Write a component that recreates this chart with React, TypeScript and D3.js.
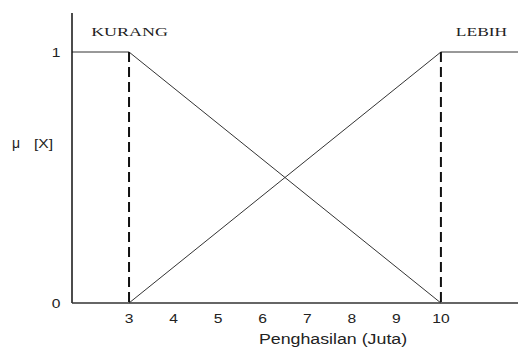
import React from "react";
import * as d3 from "d3";

// Membership function breakpoints (income in millions)
const lowBreak = 3;
const highBreak = 10;
const xTicks = [3, 4, 5, 6, 7, 8, 9, 10];
const yTicks = [0, 1];
const xDomainEdges = [1.72, 11.73];

// Fuzzy sets: "KURANG" (falling) and "LEBIH" (rising)
const kurangPoints: [number, number][] = [
  [1.72, 1],
  [3, 1],
  [10, 0],
];
const lebihPoints: [number, number][] = [
  [3, 0],
  [10, 1],
  [11.73, 1],
];

const W = 518;
const H = 351;

export default function App() {
  const x = d3.scaleLinear().domain(xDomainEdges).range([72, 518]);
  const y = d3.scaleLinear().domain([0, 1]).range([303, 52]);
  const line = d3
    .line<[number, number]>()
    .x((d) => x(d[0]))
    .y((d) => y(d[1]));

  const sans = "'Liberation Sans', Arial, sans-serif";
  const serif = "'Liberation Serif', 'Times New Roman', serif";
  const stretch = (cx: number, cy: number, s = 1.3) =>
    `translate(${cx},${cy}) scale(${s},1)`;

  return (
    <svg
      width={W}
      height={H}
      style={{ position: "absolute", left: 0, top: 0, background: "#fff" }}
    >
      {/* membership curves */}
      <path d={line(kurangPoints) || ""} fill="none" stroke="#333" strokeWidth={1} />
      <path d={line(lebihPoints) || ""} fill="none" stroke="#333" strokeWidth={1} />

      {/* dashed breakpoints */}
      {[lowBreak, highBreak].map((v) => (
        <line
          key={v}
          x1={x(v)}
          x2={x(v)}
          y1={y(1)}
          y2={y(0)}
          stroke="#111"
          strokeWidth={2}
          strokeDasharray="10,5"
        />
      ))}

      {/* axes */}
      <line x1={x(xDomainEdges[0])} x2={x(xDomainEdges[0])} y1={13} y2={y(0)} stroke="#111" strokeWidth={1.5} />
      <line x1={x(xDomainEdges[0])} x2={x(xDomainEdges[1])} y1={y(0)} y2={y(0)} stroke="#333" strokeWidth={1.5} />

      {/* x tick labels */}
      {xTicks.map((t) => (
        <text
          key={t}
          transform={stretch(x(t), 323, 1.2)}
          textAnchor="middle"
          fontFamily={sans}
          fontSize={13}
          fill="#222"
        >
          {t}
        </text>
      ))}

      {/* y tick labels */}
      {yTicks.map((t) => (
        <text
          key={t}
          transform={stretch(56, y(t) + 5, 1.2)}
          textAnchor="middle"
          fontFamily={sans}
          fontSize={13}
          fill="#222"
        >
          {t}
        </text>
      ))}

      {/* axis titles */}
      <text
        transform={stretch(333, 344, 1.27)}
        textAnchor="middle"
        fontFamily={sans}
        fontSize={14}
        fill="#222"
      >
        Penghasilan (Juta)
      </text>
      <text x={12} y={148} fontFamily={sans} fontSize={14} fill="#222">
        μ
      </text>
      <text transform={stretch(34, 148, 1.2)} fontFamily={sans} fontSize={13} fill="#222">
        [X]
      </text>

      {/* set labels */}
      <text transform={stretch(129.5, 36, 1.38)} textAnchor="middle" fontFamily={serif} fontSize={13} fill="#222">
        KURANG
      </text>
      <text transform={stretch(481.5, 36, 1.34)} textAnchor="middle" fontFamily={serif} fontSize={13} fill="#222">
        LEBIH
      </text>
    </svg>
  );
}
